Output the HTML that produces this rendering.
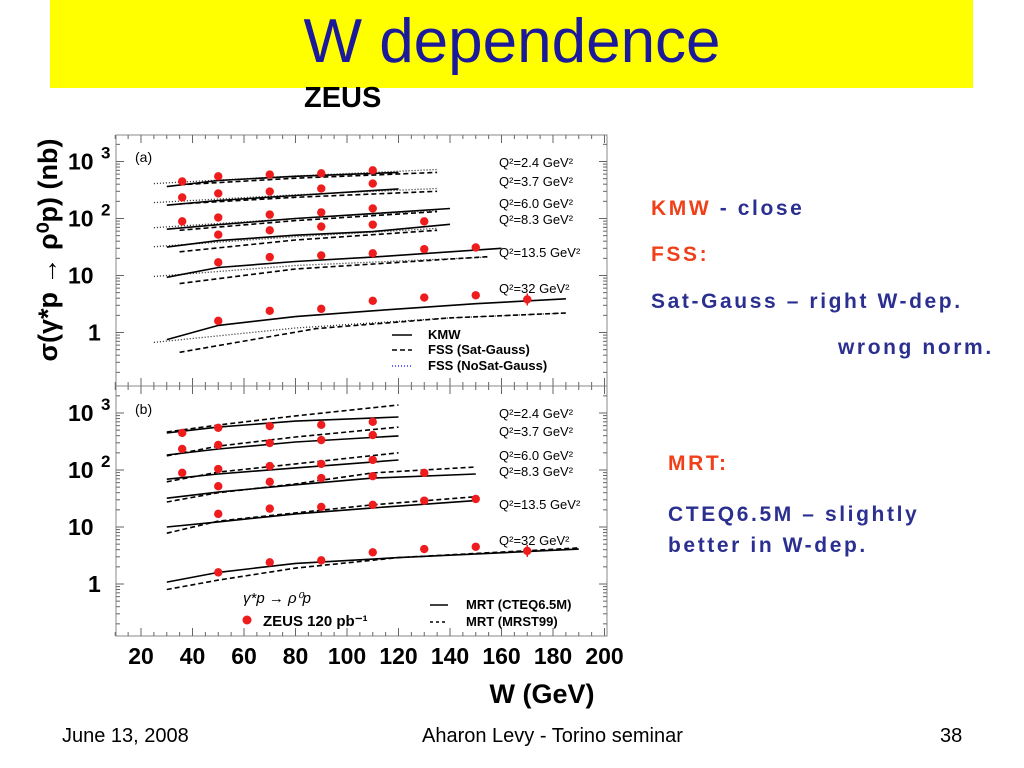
<!DOCTYPE html>
<html><head><meta charset="utf-8">
<style>
body{margin:0;width:1024px;height:768px;background:#fff;overflow:hidden;position:relative;font-family:"Liberation Sans",sans-serif}
.t{position:absolute;white-space:nowrap}
.side{font-family:"Liberation Sans",sans-serif;font-weight:bold;font-size:21px;letter-spacing:2.6px;color:#2b2f8f}
.red{color:#f0401a}
</style></head><body>
<div class="t" style="left:50px;top:0;width:923px;height:88px;background:#ffff00"></div>
<div class="t" style="left:0;width:1024px;top:6px;text-align:center;font-size:62px;color:#1a1a9a">W dependence</div>
<div class="t" style="left:304px;top:82px;font-size:29px;font-weight:bold">ZEUS</div>
<svg id="chart" width="1024" height="768" style="position:absolute;left:0;top:0"></svg>
<div class="t side red" style="left:651px;top:197px">KMW <span style="color:#2b2f8f">- close</span></div>
<div class="t side red" style="left:651px;top:243px">FSS:</div>
<div class="t side" style="left:651px;top:290px">Sat-Gauss – right W-dep.</div>
<div class="t side" style="left:838px;top:336px">wrong norm.</div>
<div class="t side red" style="left:668px;top:452px">MRT:</div>
<div class="t side" style="left:668px;top:499px;line-height:31px">CTEQ6.5M – slightly<br>better in W-dep.</div>
<div class="t" style="left:62px;top:725px;font-size:20px">June 13, 2008</div>
<div class="t" style="left:422px;top:725px;font-size:20px">Aharon Levy - Torino seminar</div>
<div class="t" style="left:940px;top:725px;font-size:20px">38</div>
<script>
const Q2labels=["Q²=2.4 GeV²","Q²=3.7 GeV²","Q²=6.0 GeV²","Q²=8.3 GeV²","Q²=13.5 GeV²","Q²=32 GeV²"];
const dataW=[36,50,70,90,110,130,150,170];
const data24=[447,550,590,620,700];
const data37=[234,275,297,335,410];
const data60=[89,104,117,128,150];
const data83=[null,52,62,72,78,89];
const data135=[null,17,21,22.5,24.5,29,31];
const data32=[null,1.6,2.4,2.6,3.6,4.1,4.5,3.8];
// panel (a) models
const kmwW=[[30,50,80,120],[30,50,80,120],[30,50,80,110,140],[30,50,80,110,140],[30,50,80,110,160],[30,50,80,110,150,185]];
const kmwV=[[363,465,550,645],[171,207,253,331],[65,78,100,122,150],[31.5,41,51,59,79],[9.3,13.8,17.6,21,30],[0.75,1.33,1.9,2.4,3.2,3.9]];
const satW=[[35,80,135],[35,80,135],[35,80,135],[35,80,135],[35,80,155],[35,88,140,185]];
const satV=[[390,510,645],[180,235,300],[62,92,132],[26,42,62],[7.2,13,21.5],[0.45,1.17,1.8,2.2]];
const nosatW=[[25,80,135],[25,80,135],[25,80,135],[25,80,135],[25,80,155],[25,80,140,185]];
const nosatV=[[410,560,725],[190,260,336],[69,100,138],[32,48,67],[9.6,15,21],[0.67,1.2,1.8,2.2]];
// panel (b) models
const cteqW=[[30,50,80,120],[30,50,80,120],[30,50,80,120],[30,50,80,110,150],[30,50,80,110,150],[30,50,80,120,190]];
const cteqV=[[447,565,720,850],[183,234,310,396],[69,85,109,150],[32,41,55,72,85],[10,12.3,17,21.6,29],[1.08,1.6,2.3,2.9,4.1]];
const mrstW=cteqW;
const mrstV=[[465,615,890,1380],[177,263,380,565],[62,92,128,200],[27.5,40,57,89,113],[7.8,12.7,17.7,24.5,34],[0.8,1.17,1.9,2.9,4.3]];
const xTicks=[20,40,60,80,100,120,140,160,180,200];

const svg=document.getElementById('chart');
const NS='http://www.w3.org/2000/svg';
const X0=116,X1=607;
const xs=w=>141+(w-20)*2.575;
function ys(v,p){const base=p===0?332.5:584;return base-Math.log10(v)*57;}
function mk(t,a,parent){const e=document.createElementNS(NS,t);for(const k in a)e.setAttribute(k,a[k]);(parent||svg).appendChild(e);return e;}
function txt(x,y,s,size,anchor,extra){const e=mk('text',Object.assign({x:x,y:y,'font-size':size,'text-anchor':anchor||'start','font-family':'Liberation Sans, sans-serif'},extra||{}));e.textContent=s;return e;}

const panels=[[135,386],[386,636]];
panels.forEach((pp,p)=>{
  const g=mk('g',{});
  
  
  const r=mk('rect',{x:X0,y:pp[0],width:X1-X0,height:pp[1]-pp[0],fill:'none',stroke:'#888','stroke-width':1},g);
  
  
  for(let w=10;w<=200;w+=5){const x=xs(w);const L=(w%20===0)?8:4;
    mk('line',{x1:x,x2:x,y1:pp[1],y2:pp[1]-L,stroke:'#666'},g);mk('line',{x1:x,x2:x,y1:pp[0],y2:pp[0]+L,stroke:'#666'},g);}
  for(let d=-1;d<=3;d++)for(let m=1;m<10;m++){const v=m*Math.pow(10,d);const y=ys(v,p);if(y<pp[0]||y>pp[1])continue;const L=m===1?8:4;
    mk('line',{x1:X0,x2:X0+L,y1:y,y2:y,stroke:'#666'},g);mk('line',{x1:X1,x2:X1-L,y1:y,y2:y,stroke:'#666'},g);}
  const labs=[['10','3',1000],['10','2',100],['10','',10],['1','',1]];
  labs.forEach(l=>{const y=ys(l[2],p);const t=txt(l[0]==='1'?88:68,y+8,l[0],23,'start',{'font-weight':'bold'});
    
    if(l[1])txt(101,y-3,l[1],17,'start',{'font-weight':'bold'});});
  txt(135,p===0?162:414,p===0?'(a)':'(b)',14);
  const qy=p===0?[167,186,208,224,257,293]:[418,436,460,476,509,545];
  qy.forEach((y,i)=>{const t=txt(499,y,Q2labels[i],13);});
  function curve(W,V,dash,color,name){W.forEach((ws,i)=>{const d=ws.map((w,j)=>(j?'L':'M')+xs(w).toFixed(1)+' '+ys(V[i][j],p).toFixed(1)).join(' ');
    const e=mk('path',{d:d,fill:'none',stroke:color,'stroke-width':dash==='1 2'?1.3:1.6,'stroke-dasharray':dash},g);
    });}
  if(p===0){curve(nosatW,nosatV,'1 2','#222','fss-nosat-curve');curve(satW,satV,'5 3','#000','fss-sat-curve');curve(kmwW,kmwV,'','#000','kmw-curve');}
  else{curve(mrstW,mrstV,'5 3','#000','mrst99-curve');curve(cteqW,cteqV,'','#000','cteq-curve');}
  [data24,data37,data60,data83,data135,data32].forEach(arr=>arr.forEach((v,i)=>{if(v==null)return;
    const c=mk('circle',{cx:xs(dataW[i]),cy:ys(v,p),r:4.2,fill:'#ee1c1c'},g);
    }));
  const lx=xs(170),ly=ys(3.8,p);mk('line',{x1:lx,x2:lx,y1:ly-6,y2:ly+6,stroke:'#ee1c1c','stroke-width':1.5},g);
});
[[339,'','KMW'],[354,'5 3','FSS (Sat-Gauss)'],[370,'1 2','FSS (NoSat-Gauss)']].forEach((l,i)=>{
  mk('line',{x1:392,x2:412,y1:l[0]-4,y2:l[0]-4,stroke:i===2?'#33f':'#000','stroke-width':1.5,'stroke-dasharray':l[1]});
  const t=txt(428,l[0],l[2],13,'start',{'font-weight':'bold'});});
[[609,'','MRT (CTEQ6.5M)'],[626,'3 3','MRT (MRST99)']].forEach(l=>{
  mk('line',{x1:430,x2:448,y1:l[0]-4,y2:l[0]-4,stroke:'#000','stroke-width':1.5,'stroke-dasharray':l[1]});
  const t=txt(466,l[0],l[2],13,'start',{'font-weight':'bold'});});
txt(243,603,'γ*p → ρ⁰p',15,'start',{'font-style':'italic'});
mk('circle',{cx:247,cy:620,r:4.5,fill:'#ee1c1c'});
const zl=txt(263,626,'ZEUS 120 pb⁻¹',15,'start',{'font-weight':'bold'});
xTicks.forEach(w=>{const t=txt(xs(w),664,String(w),23,'middle',{'font-weight':'bold'});});
const xt=txt(542,703,'W (GeV)',27,'middle',{'font-weight':'bold'});
const yt=txt(0,0,'σ(γ*p → ρ⁰p) (nb)',27,'middle',{'font-weight':'bold',transform:'translate(57,250) rotate(-90)'});

</script>
</body></html>
